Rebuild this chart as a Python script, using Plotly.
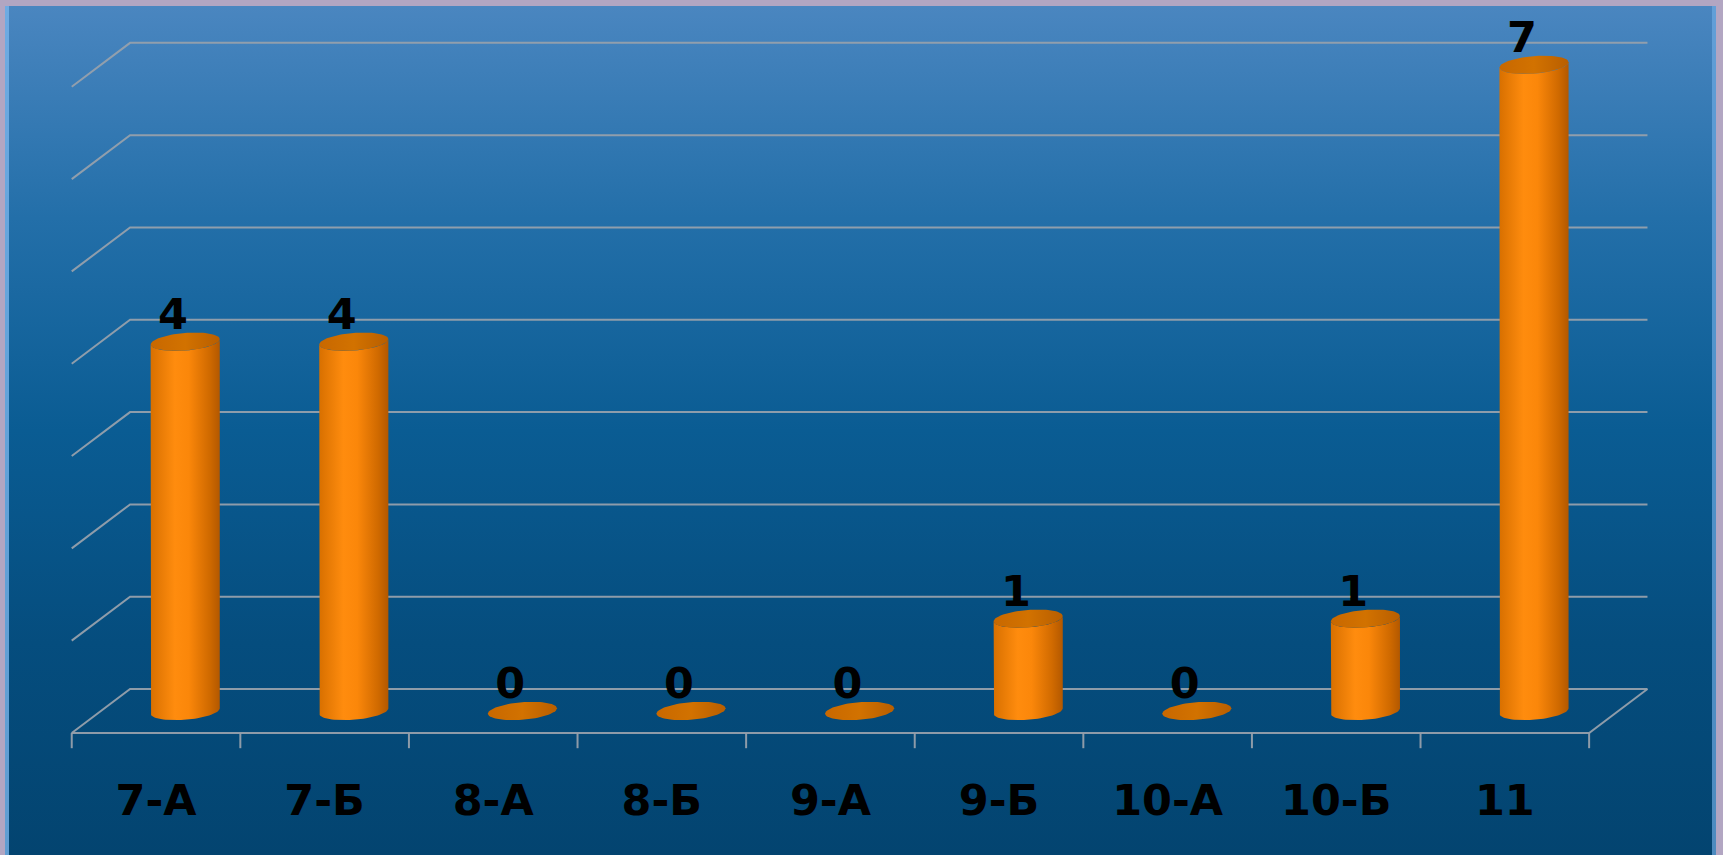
import numpy as np
import plotly.graph_objects as go

# ---------------- data ----------------
categories = ["7-А", "7-Б", "8-А", "8-Б", "9-А", "9-Б", "10-А", "10-Б", "11"]
values = [4, 4, 0, 0, 0, 1, 0, 1, 7]
grid_levels = [0, 1, 2, 3, 4, 5, 6, 7]

# ---------------- styling / geometry ----------------
W, H = 1723, 855
DX, DY = 0.173, 0.238          # pseudo-3D depth offsets (data units)
HALF_W = 0.205                 # cylinder half width (category units)
ELL_B = 0.095                  # ellipse vertical semi-axis (value units)
SHEAR = 0.14                   # perspective tilt of ellipses
LABEL_DX = -0.072              # value labels sit slightly left of bar centre
LABEL_DY = 0.255
GRID_COLOR = "rgba(150,160,172,0.95)"
FONT = "DejaVu Sans"

fig = go.Figure()

# ---------- background panel (pixel axes x/y) ----------
px_l, px_r, py_t = 5, 1716, 6
fig.add_trace(go.Scatter(
    x=[px_l, px_r, px_r, px_l, px_l],
    y=[0, 0, H - py_t, H - py_t, 0],
    mode="lines", line=dict(width=0), fill="toself",
    fillgradient=dict(type="vertical",
                      colorscale=[[0, "#034470"], [0.25, "#054d7e"], [0.5, "#0a5c93"],
                                  [0.75, "#236fa9"], [1, "#4a86c0"]]),
    hoverinfo="skip", showlegend=False, xaxis="x", yaxis="y"))
# bevel edges
fig.add_trace(go.Scatter(x=[px_l + 2, px_l + 2], y=[0, H - py_t], mode="lines",
                         line=dict(color="rgba(120,180,235,0.8)", width=4),
                         hoverinfo="skip", showlegend=False, xaxis="x", yaxis="y"))
fig.add_trace(go.Scatter(x=[px_r - 2, px_r - 2], y=[0, H - py_t], mode="lines",
                         line=dict(color="rgba(110,170,225,0.7)", width=4),
                         hoverinfo="skip", showlegend=False, xaxis="x", yaxis="y"))

# ---------- grid (data axes x2/y2) ----------
n = len(categories)
x_left_back = -0.5 + DX
x_right_back = n - 0.5 + DX
x_left_front = -0.5 - DX
x_right_front = n - 0.5 - DX

gx, gy = [], []
for v in grid_levels:
    gx += [x_left_front, x_left_back, x_right_back, None]
    gy += [v - DY, v + DY, v + DY, None]
gx += [x_left_front, x_right_front, x_right_back, None]
gy += [-DY, -DY, DY, None]
for k in range(n + 1):
    xb = k - 0.5 - DX
    gx += [xb, xb, None]
    gy += [-DY, -DY - 0.165, None]
fig.add_trace(go.Scatter(x=gx, y=gy, mode="lines",
                         line=dict(color=GRID_COLOR, width=2),
                         hoverinfo="skip", showlegend=False, xaxis="x2", yaxis="y2"))

# ---------- cylinders ----------
body_scale = [[0, "#d87000"], [0.35, "#ff8c0e"], [0.55, "#fb870a"],
              [0.85, "#d06a00"], [1, "#b35800"]]
top_scale = [[0, "#c86800"], [0.5, "#d27200"], [1, "#b85e00"]]

for i, v in enumerate(values):
    c = i
    t_low = np.linspace(np.pi, 2 * np.pi, 40)
    if v > 0:
        bx = [c - HALF_W]
        by = [v]
        xs = c + HALF_W * np.cos(t_low)
        ys = ELL_B * np.sin(t_low) + SHEAR * (xs - c)
        bx += list(xs)
        by += list(ys)
        xs2 = c + HALF_W * np.cos(t_low[::-1])
        ys2 = v + ELL_B * np.sin(t_low[::-1]) + SHEAR * (xs2 - c)
        bx += list(xs2)
        by += list(ys2)
        bx.append(c - HALF_W)
        by.append(v)
        fig.add_trace(go.Scatter(
            x=bx, y=by, mode="lines", line=dict(width=0), fill="toself",
            fillgradient=dict(type="horizontal", colorscale=body_scale),
            hoverinfo="skip", showlegend=False, xaxis="x2", yaxis="y2"))
    t = np.linspace(0, 2 * np.pi, 80)
    ex = c + HALF_W * np.cos(t)
    ey = v + ELL_B * np.sin(t) + SHEAR * (ex - c)
    fig.add_trace(go.Scatter(
        x=ex, y=ey, mode="lines", line=dict(width=0), fill="toself",
        fillgradient=dict(type="horizontal", colorscale=top_scale),
        hoverinfo="skip", showlegend=False, xaxis="x2", yaxis="y2"))

# ---------- value labels ----------
fig.add_trace(go.Scatter(
    x=[i + LABEL_DX for i in range(n)], y=[v + LABEL_DY for v in values],
    mode="text", text=[str(v) for v in values], textposition="middle center",
    textfont=dict(family=FONT, size=43, color="#000000", weight="bold"),
    hoverinfo="skip", showlegend=False, xaxis="x2", yaxis="y2"))

# ---------- category labels ----------
fig.add_trace(go.Scatter(
    x=[i - DX for i in range(n)], y=[-1.012] * n,
    mode="text", text=categories, textposition="middle center",
    textfont=dict(family=FONT, size=43, color="#000000", weight="bold"),
    hoverinfo="skip", showlegend=False, xaxis="x2", yaxis="y2"))

x0_px, x_unit = 185.2, 168.6
y0_px, y_unit = 711.0, 92.31

fig.update_layout(
    width=W, height=H, autosize=False,
    margin=dict(l=0, r=0, t=0, b=0, pad=0),
    paper_bgcolor="#b2a6c2", plot_bgcolor="rgba(0,0,0,0)",
    showlegend=False,
    xaxis=dict(range=[0, W], domain=[0, 1], visible=False, fixedrange=True),
    yaxis=dict(range=[0, H], domain=[0, 1], visible=False, fixedrange=True),
    xaxis2=dict(range=[-x0_px / x_unit, (W - x0_px) / x_unit], overlaying="x",
                anchor="y2", visible=False, fixedrange=True),
    yaxis2=dict(range=[-(H - y0_px) / y_unit, y0_px / y_unit], overlaying="y",
                anchor="x2", visible=False, fixedrange=True),
)

fig.write_html("out.html", config={"displayModeBar": False},
               post_script="document.body.style.margin='0';document.body.style.overflow='hidden';")
